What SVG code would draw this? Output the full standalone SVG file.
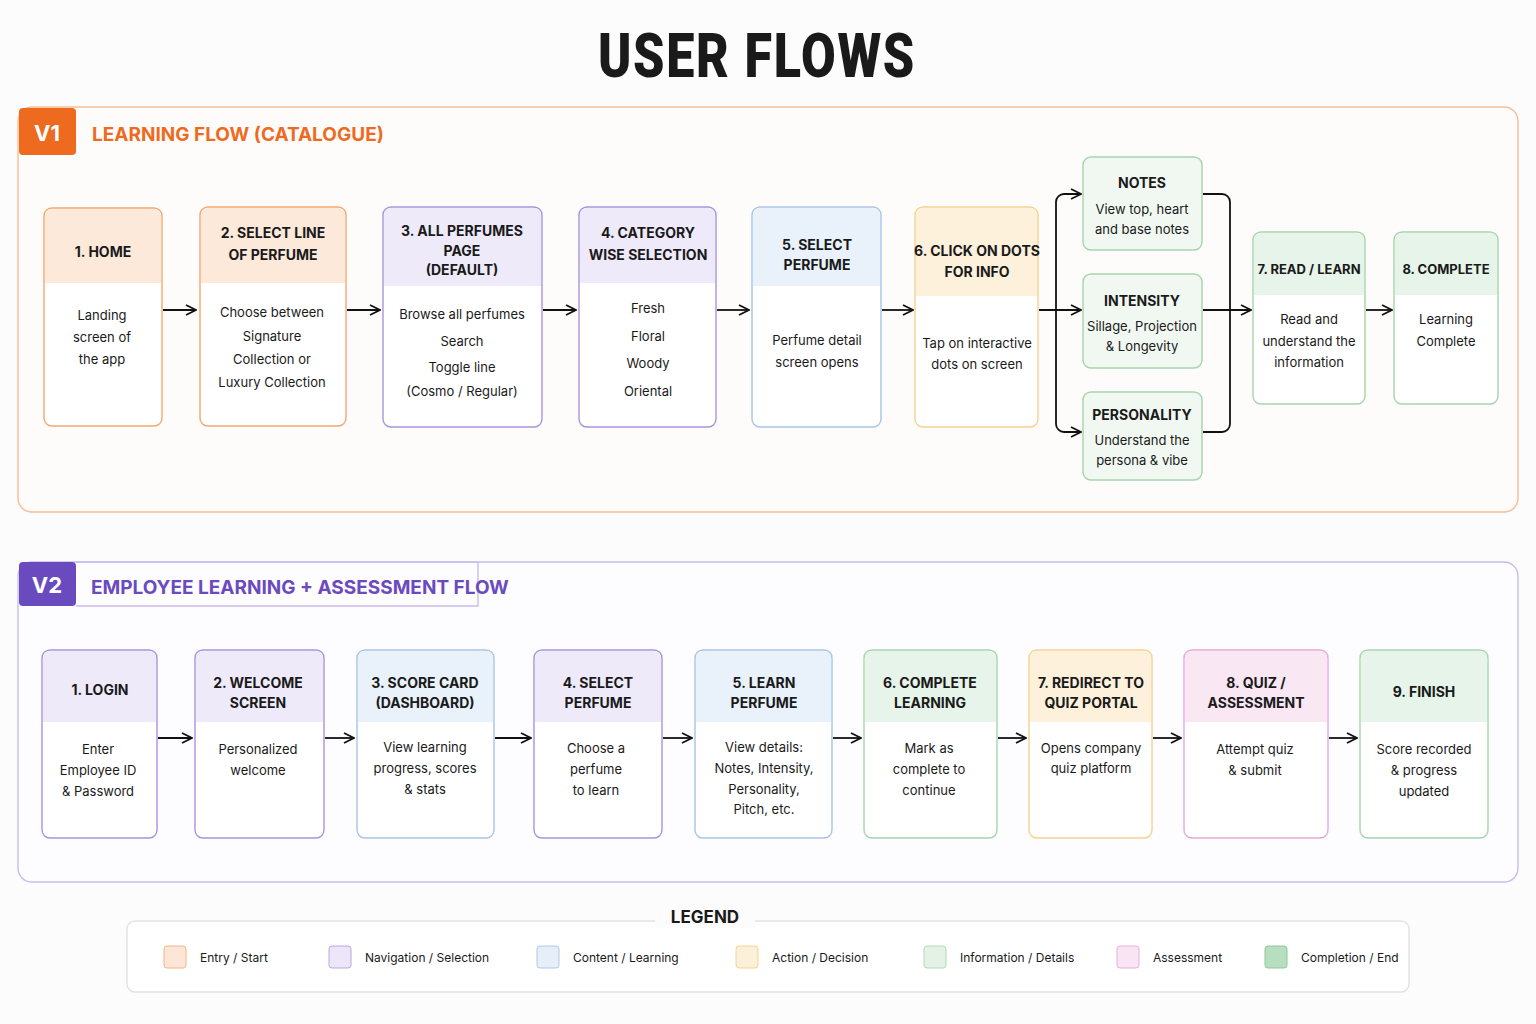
<svg xmlns="http://www.w3.org/2000/svg" width="1536" height="1024" viewBox="0 0 1536 1024">
<defs>
<marker id="ah" viewBox="0 0 12 12" refX="11" refY="6" markerWidth="12" markerHeight="12" markerUnits="userSpaceOnUse" orient="auto"><path d="M1,1 L11,6 L1,11" fill="none" stroke="#111" stroke-width="1.8"/></marker>
<style>
text{font-family:Inter,"Noto Sans","Liberation Sans",sans-serif;fill:#1a1a1a;text-anchor:middle}
.h{font-weight:700;font-size:14px}
.b{font-size:13px}
.c{fill:none;stroke:#111;stroke-width:1.8;marker-end:url(#ah)}
.ln{fill:none;stroke:#111;stroke-width:1.8}
.o{stroke:#f4a870}.oh{fill:#fde9da}
.p{stroke:#a894dc}.ph{fill:#efeafa}
.bl{stroke:#a9c4e4}.blh{fill:#e9f1fa}
.y{stroke:#f5d28e}.yh{fill:#fdf1dc}
.g{stroke:#a6d4ae}.gh{fill:#e7f4e9}
.k{stroke:#e4aad6}.kh{fill:#f9e7f4}
.box{fill:#fff;stroke-width:1.4}
.lg{font-size:12px;text-anchor:start}
</style>
</defs>
<rect width="1536" height="1024" fill="#fcfcfc"/>
<text x="757" y="77" style="font-family:Roboto,'Liberation Sans',sans-serif;font-weight:900;font-size:62px;letter-spacing:2px" fill="#111" textLength="318" lengthAdjust="spacingAndGlyphs">USER FLOWS</text>

<!-- V1 container -->
<g id="v1">
<rect x="18" y="107" width="1500" height="405" rx="14" fill="#fefcfb" stroke="#f6bf97" stroke-width="1.4"/>
<rect x="19" y="108" width="57" height="47" rx="4" fill="#ee6a1f"/>
<text x="47" y="141" style="font-size:22px;font-weight:700;fill:#fff">V1</text>
<text x="92" y="141" style="font-size:19px;font-weight:700;fill:#ee6a1f;text-anchor:start">LEARNING FLOW (CATALOGUE)</text>
</g>

<g id="n1"><rect x="44" y="208" width="118" height="218" rx="8" class="box o"/><path d="M45,216 a7,7 0 0 1 7,-7 h102 a7,7 0 0 1 7,7 v67 h-116z" class="oh"/>
<text x="103" y="257" class="h">1. HOME</text><text x="102" y="320" class="b">Landing</text><text x="102" y="342" class="b">screen of</text><text x="102" y="364" class="b">the app</text></g>
<g id="n2"><rect x="200" y="207" width="146" height="219" rx="8" class="box o"/><path d="M201,215 a7,7 0 0 1 7,-7 h130 a7,7 0 0 1 7,7 v68 h-144z" class="oh"/>
<text x="273" y="238" class="h">2. SELECT LINE</text><text x="273" y="260" class="h">OF PERFUME</text><text x="272" y="317" class="b">Choose between</text><text x="272" y="341" class="b">Signature</text><text x="272" y="364" class="b">Collection or</text><text x="272" y="387" class="b">Luxury Collection</text></g>
<g id="n3"><rect x="383" y="207" width="159" height="220" rx="8" class="box p"/><path d="M384,215 a7,7 0 0 1 7,-7 h143 a7,7 0 0 1 7,7 v71 h-157z" class="ph"/>
<text x="462" y="236" class="h">3. ALL PERFUMES</text><text x="462" y="256" class="h">PAGE</text><text x="462" y="275" class="h">(DEFAULT)</text><text x="462" y="319" class="b">Browse all perfumes</text><text x="462" y="346" class="b">Search</text><text x="462" y="372" class="b">Toggle line</text><text x="462" y="396" class="b">(Cosmo / Regular)</text></g>
<g id="n4"><rect x="579" y="207" width="137" height="220" rx="8" class="box p"/><path d="M580,215 a7,7 0 0 1 7,-7 h121 a7,7 0 0 1 7,7 v68 h-135z" class="ph"/>
<text x="648" y="238" class="h">4. CATEGORY</text><text x="648" y="260" class="h">WISE SELECTION</text><text x="648" y="313" class="b">Fresh</text><text x="648" y="341" class="b">Floral</text><text x="648" y="368" class="b">Woody</text><text x="648" y="396" class="b">Oriental</text></g>
<g id="n5"><rect x="752" y="207" width="129" height="220" rx="8" class="box bl"/><path d="M753,215 a7,7 0 0 1 7,-7 h113 a7,7 0 0 1 7,7 v71 h-127z" class="blh"/>
<text x="817" y="250" class="h">5. SELECT</text><text x="817" y="270" class="h">PERFUME</text><text x="817" y="345" class="b">Perfume detail</text><text x="817" y="367" class="b">screen opens</text></g>
<g id="n6"><rect x="915" y="207" width="123" height="220" rx="8" class="box y" fill="#fffdf8"/><path d="M916,215 a7,7 0 0 1 7,-7 h107 a7,7 0 0 1 7,7 v81 h-121z" class="yh"/>
<text x="977" y="256" class="h">6. CLICK ON DOTS</text><text x="977" y="277" class="h">FOR INFO</text><text x="977" y="348" class="b">Tap on interactive</text><text x="977" y="369" class="b">dots on screen</text></g>
<g id="notes"><rect x="1083" y="157" width="119" height="93" rx="8" class="g" fill="#f1f8f2" stroke-width="1.4"/>
<text x="1142" y="188" class="h">NOTES</text><text x="1142" y="214" class="b">View top, heart</text><text x="1142" y="234" class="b">and base notes</text></g>
<g id="intensity"><rect x="1083" y="274" width="119" height="94" rx="8" class="g" fill="#f1f8f2" stroke-width="1.4"/>
<text x="1142" y="306" class="h">INTENSITY</text><text x="1142" y="331" class="b">Sillage, Projection</text><text x="1142" y="351" class="b">&amp; Longevity</text></g>
<g id="personality"><rect x="1083" y="392" width="119" height="88" rx="8" class="g" fill="#f1f8f2" stroke-width="1.4"/>
<text x="1142" y="420" class="h">PERSONALITY</text><text x="1142" y="445" class="b">Understand the</text><text x="1142" y="465" class="b">persona &amp; vibe</text></g>
<g id="n7"><rect x="1253" y="232" width="112" height="172" rx="8" class="box g" fill="#f7fbf7"/><path d="M1254,240 a7,7 0 0 1 7,-7 h96 a7,7 0 0 1 7,7 v55 h-110z" class="gh"/>
<text x="1309" y="274" class="h" style="font-size:13px">7. READ / LEARN</text><text x="1309" y="324" class="b">Read and</text><text x="1309" y="346" class="b">understand the</text><text x="1309" y="367" class="b">information</text></g>
<g id="n8"><rect x="1394" y="232" width="104" height="172" rx="8" class="box g" fill="#f7fbf7"/><path d="M1395,240 a7,7 0 0 1 7,-7 h88 a7,7 0 0 1 7,7 v55 h-102z" class="gh"/>
<text x="1446" y="274" class="h" style="font-size:13px">8. COMPLETE</text><text x="1446" y="324" class="b">Learning</text><text x="1446" y="346" class="b">Complete</text></g>

<!-- V2 container -->
<g id="v2">
<rect x="18" y="562" width="1500" height="320" rx="14" fill="#fdfcfe" stroke="#c9bde9" stroke-width="1.4"/>
<path d="M76,562 H478 V606 H76" fill="none" stroke="#c9bde9" stroke-width="1.4"/>
<rect x="19" y="562" width="57" height="44" rx="4" fill="#6a4bbf"/>
<text x="47" y="593" style="font-size:22px;font-weight:700;fill:#fff">V2</text>
<text x="91" y="594" style="font-size:19px;font-weight:700;fill:#6a4bbf;text-anchor:start">EMPLOYEE LEARNING + ASSESSMENT FLOW</text>
</g>

<g id="m1"><rect x="42" y="650" width="115" height="188" rx="8" class="box p"/><path d="M43,658 a7,7 0 0 1 7,-7 h99 a7,7 0 0 1 7,7 v64 h-113z" class="ph"/>
<text x="100" y="695" class="h">1. LOGIN</text><text x="98" y="754" class="b">Enter</text><text x="98" y="775" class="b">Employee ID</text><text x="98" y="796" class="b">&amp; Password</text></g>
<g id="m2"><rect x="195" y="650" width="129" height="188" rx="8" class="box p"/><path d="M196,658 a7,7 0 0 1 7,-7 h113 a7,7 0 0 1 7,7 v64 h-127z" class="ph"/>
<text x="258" y="688" class="h">2. WELCOME</text><text x="258" y="708" class="h">SCREEN</text><text x="258" y="754" class="b">Personalized</text><text x="258" y="775" class="b">welcome</text></g>
<g id="m3"><rect x="357" y="650" width="137" height="188" rx="8" class="box bl"/><path d="M358,658 a7,7 0 0 1 7,-7 h121 a7,7 0 0 1 7,7 v64 h-135z" class="blh"/>
<text x="425" y="688" class="h">3. SCORE CARD</text><text x="425" y="708" class="h">(DASHBOARD)</text><text x="425" y="752" class="b">View learning</text><text x="425" y="773" class="b">progress, scores</text><text x="425" y="794" class="b">&amp; stats</text></g>
<g id="m4"><rect x="534" y="650" width="128" height="188" rx="8" class="box p"/><path d="M535,658 a7,7 0 0 1 7,-7 h112 a7,7 0 0 1 7,7 v64 h-126z" class="ph"/>
<text x="598" y="688" class="h">4. SELECT</text><text x="598" y="708" class="h">PERFUME</text><text x="596" y="753" class="b">Choose a</text><text x="596" y="774" class="b">perfume</text><text x="596" y="795" class="b">to learn</text></g>
<g id="m5"><rect x="695" y="650" width="137" height="188" rx="8" class="box bl"/><path d="M696,658 a7,7 0 0 1 7,-7 h121 a7,7 0 0 1 7,7 v64 h-135z" class="blh"/>
<text x="764" y="688" class="h">5. LEARN</text><text x="764" y="708" class="h">PERFUME</text><text x="764" y="752" class="b">View details:</text><text x="764" y="773" class="b">Notes, Intensity,</text><text x="764" y="794" class="b">Personality,</text><text x="764" y="814" class="b">Pitch, etc.</text></g>
<g id="m6"><rect x="864" y="650" width="133" height="188" rx="8" class="box g"/><path d="M865,658 a7,7 0 0 1 7,-7 h117 a7,7 0 0 1 7,7 v64 h-131z" class="gh"/>
<text x="930" y="688" class="h">6. COMPLETE</text><text x="930" y="708" class="h">LEARNING</text><text x="929" y="753" class="b">Mark as</text><text x="929" y="774" class="b">complete to</text><text x="929" y="795" class="b">continue</text></g>
<g id="m7"><rect x="1029" y="650" width="123" height="188" rx="8" class="box y" fill="#fffdf8"/><path d="M1030,658 a7,7 0 0 1 7,-7 h107 a7,7 0 0 1 7,7 v64 h-121z" class="yh"/>
<text x="1091" y="688" class="h">7. REDIRECT TO</text><text x="1091" y="708" class="h">QUIZ PORTAL</text><text x="1091" y="753" class="b">Opens company</text><text x="1091" y="773" class="b">quiz platform</text></g>
<g id="m8"><rect x="1184" y="650" width="144" height="188" rx="8" class="box k"/><path d="M1185,658 a7,7 0 0 1 7,-7 h128 a7,7 0 0 1 7,7 v64 h-142z" class="kh"/>
<text x="1256" y="688" class="h">8. QUIZ /</text><text x="1256" y="708" class="h">ASSESSMENT</text><text x="1255" y="754" class="b">Attempt quiz</text><text x="1255" y="775" class="b">&amp; submit</text></g>
<g id="m9"><rect x="1360" y="650" width="128" height="188" rx="8" class="box g"/><path d="M1361,658 a7,7 0 0 1 7,-7 h112 a7,7 0 0 1 7,7 v64 h-126z" class="gh"/>
<text x="1424" y="697" class="h">9. FINISH</text><text x="1424" y="754" class="b">Score recorded</text><text x="1424" y="775" class="b">&amp; progress</text><text x="1424" y="796" class="b">updated</text></g>

<g id="connectors">
<path d="M163,310 H196" class="c"/><path d="M347,310 H380" class="c"/><path d="M543,310 H576" class="c"/><path d="M717,310 H749" class="c"/><path d="M882,310 H913" class="c"/>
<path d="M1039,310 H1081" class="c"/>
<path d="M1081,194 H1064 a8,8 0 0 0 -8,8 V424 a8,8 0 0 0 8,8 H1081" class="ln"/>
<path d="M1070,194 H1081" class="c"/><path d="M1070,432 H1081" class="c"/>
<path d="M1203,194 H1222 a8,8 0 0 1 8,8 V424 a8,8 0 0 1 -8,8 H1203" class="ln"/>
<path d="M1203,310 H1251" class="c"/>
<path d="M1366,310 H1392" class="c"/>
<path d="M158,738 H192" class="c"/><path d="M325,738 H354" class="c"/><path d="M495,738 H531" class="c"/><path d="M663,738 H692" class="c"/><path d="M833,738 H861" class="c"/><path d="M998,738 H1026" class="c"/><path d="M1153,738 H1181" class="c"/><path d="M1329,738 H1357" class="c"/>
</g>

<g id="legend">
<rect x="127" y="921" width="1282" height="71" rx="8" fill="#fff" stroke="#e2e2e2" stroke-width="1.4"/>
<rect x="655" y="912" width="100" height="16" fill="#fcfcfc"/>
<text x="705" y="923" style="font-size:17px;font-weight:700">LEGEND</text>
<rect x="164" y="946" width="22" height="22" rx="3" fill="#fde6d6" stroke="#f4b488"/><text x="200" y="962" class="lg">Entry / Start</text>
<rect x="329" y="946" width="22" height="22" rx="3" fill="#ece6f8" stroke="#b8a6e2"/><text x="365" y="962" class="lg">Navigation / Selection</text>
<rect x="537" y="946" width="22" height="22" rx="3" fill="#e6eef8" stroke="#afc8e6"/><text x="573" y="962" class="lg">Content / Learning</text>
<rect x="736" y="946" width="22" height="22" rx="3" fill="#fdf0d8" stroke="#f5d394"/><text x="772" y="962" class="lg">Action / Decision</text>
<rect x="924" y="946" width="22" height="22" rx="3" fill="#e3f2e5" stroke="#b2dab9"/><text x="960" y="962" class="lg">Information / Details</text>
<rect x="1117" y="946" width="22" height="22" rx="3" fill="#f8e4f2" stroke="#e6b0d8"/><text x="1153" y="962" class="lg">Assessment</text>
<rect x="1265" y="946" width="22" height="22" rx="3" fill="#b7dfbf" stroke="#8cc79a"/><text x="1301" y="962" class="lg">Completion / End</text>
</g>
</svg>
